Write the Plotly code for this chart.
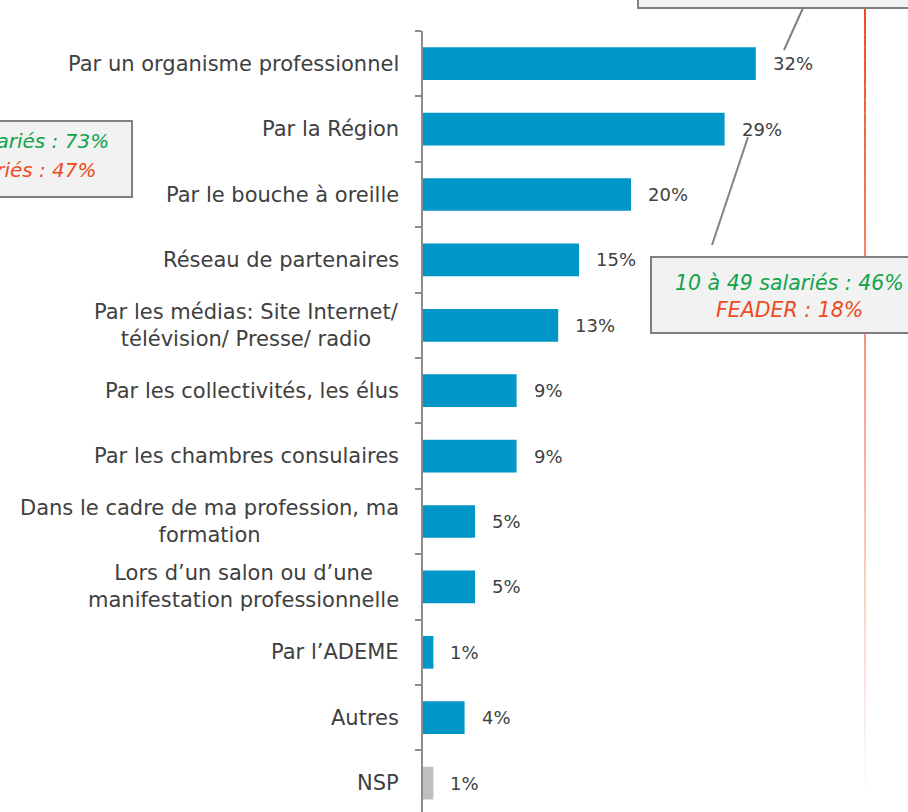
import plotly.graph_objects as go

categories = [
    "Par un organisme professionnel",
    "Par la Région",
    "Par le bouche à oreille",
    "Réseau de partenaires",
    "Par les médias: Site Internet/<br>télévision/ Presse/ radio",
    "Par les collectivités, les élus",
    "Par les chambres consulaires",
    "Dans le cadre de ma profession, ma<br>formation",
    "Lors d’un salon ou d’une<br>manifestation professionnelle",
    "Par l’ADEME",
    "Autres",
    "NSP",
]
values = [32, 29, 20, 15, 13, 9, 9, 5, 5, 1, 4, 1]
bar_colors = ["#0096C8"] * 11 + ["#BFBFBF"]

callout_left = ["Plus de 50 salariés : 73%", "Moins de 10 salariés : 47%"]
callout_right = ["10 à 49 salariés : 46%", "FEADER : 18%"]

W, H = 908, 812
ML, MR, MT, MB = 423, 0, 31, 0
PW, PH = W - ML - MR, H - MT - MB


def px(x):
    return (x - ML) / PW


def py(y):
    return (H - MB - y) / PH


TXT = "#404040"
GREEN = "#10A34A"
RED = "#EE4B23"
FONT = "DejaVu Sans"

fig = go.Figure()
fig.add_trace(go.Bar(
    y=list(range(len(categories))), x=values, orientation="h",
    marker=dict(color=bar_colors, line=dict(width=0)),
    width=0.5, hoverinfo="skip",
))

ann = []
for i, (c, v) in enumerate(zip(categories, values)):
    ann.append(dict(x=0, y=i, xref="x", yref="y", text=c, showarrow=False,
                    xanchor="right", align="center", xshift=-22,
                    font=dict(family=FONT, size=21, color=TXT)))
    ann.append(dict(x=v, y=i, xref="x", yref="y", text=f"{v}%", showarrow=False,
                    xanchor="left", xshift=15,
                    font=dict(family=FONT, size=18, color=TXT)))

# left callout texts
ann.append(dict(x=px(111), y=py(141), xref="paper", yref="paper", text=callout_left[0],
                showarrow=False, xanchor="right", yanchor="middle",
                font=dict(family=FONT, size=20, color=GREEN, style="italic")))
ann.append(dict(x=px(99), y=py(170), xref="paper", yref="paper", text=callout_left[1],
                showarrow=False, xanchor="right", yanchor="middle",
                font=dict(family=FONT, size=20, color=RED, style="italic")))
# right callout texts
ann.append(dict(x=px(789), y=py(283), xref="paper", yref="paper", text=callout_right[0],
                showarrow=False, xanchor="center", yanchor="middle",
                font=dict(family=FONT, size=20.5, color=GREEN, style="italic")))
ann.append(dict(x=px(789), y=py(310), xref="paper", yref="paper", text=callout_right[1],
                showarrow=False, xanchor="center", yanchor="middle",
                font=dict(family=FONT, size=20.5, color=RED, style="italic")))

shapes = []
# fading red vertical line
y0, y1, n = 8, 792, 60
for k in range(n):
    a = y0 + (y1 - y0) * k / n
    b = y0 + (y1 - y0) * (k + 1) / n
    op = max(0.0, 1 - (k + 0.5) / n)
    shapes.append(dict(type="line", xref="paper", yref="paper",
                       x0=px(865), x1=px(865), y0=py(a), y1=py(b),
                       line=dict(color=RED, width=2), opacity=op, layer="above"))

box_style = dict(type="rect", xref="paper", yref="paper",
                 fillcolor="#F2F2F2", line=dict(color="#808080", width=2), layer="above")
shapes.append(dict(**box_style, x0=px(638), x1=px(960), y0=py(-40), y1=py(8)))
shapes.append(dict(**box_style, x0=px(651), x1=px(927), y0=py(333), y1=py(257)))
shapes.append(dict(**box_style, x0=px(-150), x1=px(132), y0=py(197), y1=py(121)))
# leader lines
for (xa, ya, xb, yb) in [(803, 8, 784, 50), (748, 137, 712, 245)]:
    shapes.append(dict(type="line", xref="paper", yref="paper",
                       x0=px(xa), y0=py(ya), x1=px(xb), y1=py(yb),
                       line=dict(color="#808080", width=2), layer="above"))

fig.update_layout(
    width=W, height=H,
    margin=dict(l=ML, r=MR, t=MT, b=MB, pad=0),
    plot_bgcolor="white", paper_bgcolor="white",
    showlegend=False,
    xaxis=dict(range=[0, PW / 10.4], visible=False, fixedrange=True),
    yaxis=dict(range=[-0.5 + PH / 65.4, -0.5], showticklabels=False, showgrid=False,
               zeroline=False, showline=True, linecolor="#8C8C8C", linewidth=2,
               ticks="outside", tickvals=[i - 0.5 for i in range(len(categories) + 1)],
               ticklen=6, tickcolor="#8C8C8C", tickwidth=2, fixedrange=True),
    annotations=ann, shapes=shapes,
)
fig.write_html(
    "out.html",
    config={"displayModeBar": False, "staticPlot": True},
    post_script="document.body.style.margin='0';document.body.style.overflow='hidden';",
)
